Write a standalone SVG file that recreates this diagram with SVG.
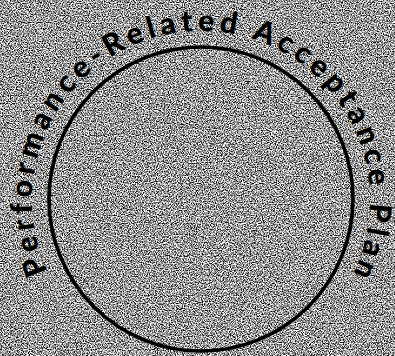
<svg xmlns="http://www.w3.org/2000/svg" width="395" height="356" viewBox="0 0 395 356">
  <defs>
    <filter id="noise" x="0" y="0" width="100%" height="100%" color-interpolation-filters="sRGB">
      <feTurbulence type="fractalNoise" baseFrequency="0.85" numOctaves="2" seed="7" result="t"/>
      <feColorMatrix in="t" type="matrix" values="2.6 0 0 0 -0.7  2.6 0 0 0 -0.7  2.6 0 0 0 -0.7  0 0 0 0 1"/>
    </filter>
    <path id="arc" d="M 47.8 271.4 A 169 169 0 1 1 339.4 296.9"/>
    <style>
      .ring { fill: none; stroke: #000; stroke-width: 3.6; }
      .title { font-family: "Lato", "Liberation Sans", sans-serif; font-weight: 900; font-size: 30px; fill: #000; letter-spacing: 4.9px; }
    </style>
  </defs>
  <g id="background">
    <rect width="395" height="356" fill="#9c9c9c"/>
    <rect width="395" height="356" filter="url(#noise)"/>
  </g>
  <g id="ring">
    <circle class="ring" cx="201" cy="199" r="152"/>
  </g>
  <g id="title">
    <text class="title"><textPath href="#arc">Performance-Related Acceptance Plan</textPath></text>
  </g>
</svg>
